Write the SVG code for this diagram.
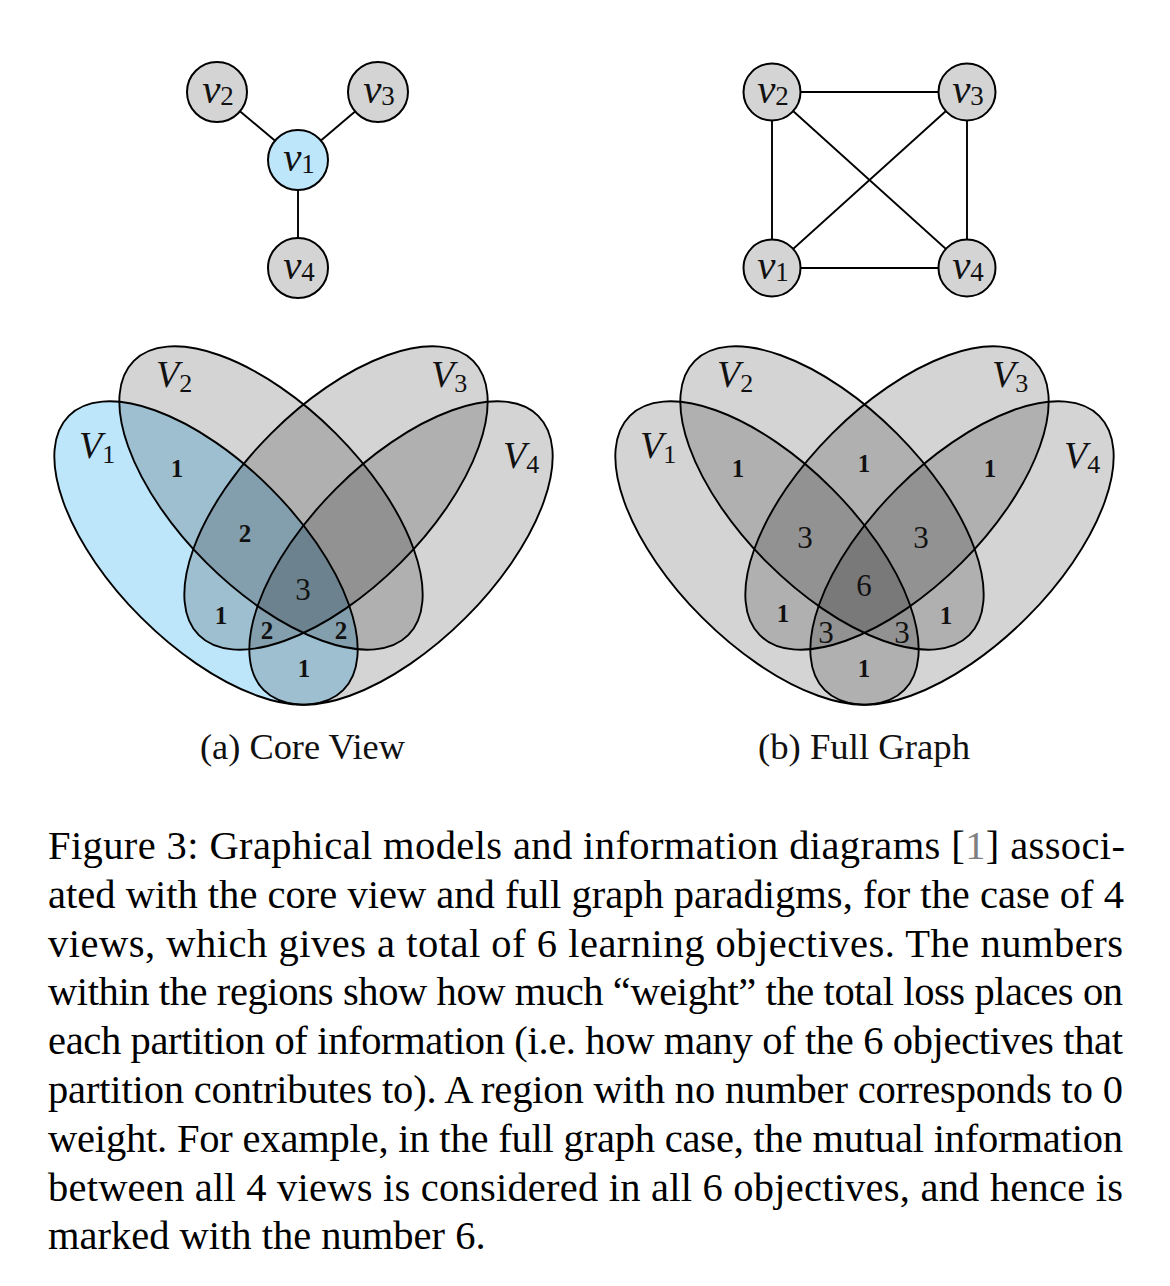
<svg xmlns="http://www.w3.org/2000/svg" width="1170" height="1286" viewBox="0 0 1170 1286">
<style>
.node{stroke:#000;stroke-width:2;fill:#d4d4d4}
.blue{fill:#bee6fb}
.edge{stroke:#000;stroke-width:1.9;fill:none}
.lab{font-family:"Liberation Serif",serif;font-size:41px;fill:#111;text-anchor:middle}
.it{font-style:italic}
.sub{font-size:27px;font-style:normal}
.shade{fill:#000;fill-opacity:0.17;stroke:none}
.bluefill{fill:#bee6fb;stroke:none}
.outline{fill:none;stroke:#000;stroke-width:1.9}
.vl{font-family:"Liberation Serif",serif;font-size:38px;fill:#111}
.vs{font-size:26px;font-style:normal}
.num{font-family:"Liberation Serif",serif;text-anchor:middle;fill:#111}
.n1{font-size:25px;font-weight:bold}
.n3{font-size:31px}
.cap{font-family:"Liberation Serif",serif;font-size:35px;fill:#111}
.fig{font-family:"Liberation Serif",serif;font-size:40.5px;fill:#000}
</style>
<defs>
<ellipse id="e1" cx="206" cy="553" rx="194" ry="91.5" transform="rotate(45 206 553)"/>
<ellipse id="e2" cx="271" cy="498" rx="194" ry="91.5" transform="rotate(45 271 498)"/>
<ellipse id="e3" cx="336" cy="498" rx="194" ry="91.5" transform="rotate(-45 336 498)"/>
<ellipse id="e4" cx="401" cy="553" rx="194" ry="91.5" transform="rotate(-45 401 553)"/>
</defs>

<!-- (a) Core view graph -->
<g id="connectors-a">
<line class="edge" x1="217" y1="92" x2="298" y2="160"/>
<line class="edge" x1="378" y1="92" x2="298" y2="160"/>
<line class="edge" x1="298" y1="160" x2="298" y2="268"/>
</g>
<g id="a-v2"><circle class="node" cx="217" cy="92" r="30"/><text class="lab" x="218" y="103"><tspan class="it">v</tspan><tspan class="sub" dy="2">2</tspan></text></g>
<g id="a-v3"><circle class="node" cx="378" cy="92" r="30"/><text class="lab" x="379" y="103"><tspan class="it">v</tspan><tspan class="sub" dy="2">3</tspan></text></g>
<g id="a-v1"><circle class="node blue" cx="298" cy="160" r="30"/><text class="lab" x="299" y="171"><tspan class="it">v</tspan><tspan class="sub" dy="2">1</tspan></text></g>
<g id="a-v4"><circle class="node" cx="298" cy="268" r="30"/><text class="lab" x="299" y="279"><tspan class="it">v</tspan><tspan class="sub" dy="2">4</tspan></text></g>

<!-- (b) Full graph -->
<g id="connectors-b">
<line class="edge" x1="772" y1="92" x2="967" y2="92"/>
<line class="edge" x1="772" y1="268" x2="967" y2="268"/>
<line class="edge" x1="772" y1="92" x2="772" y2="268"/>
<line class="edge" x1="967" y1="92" x2="967" y2="268"/>
<line class="edge" x1="772" y1="92" x2="967" y2="268"/>
<line class="edge" x1="772" y1="268" x2="967" y2="92"/>
</g>
<g id="b-v2"><circle class="node" cx="772" cy="92" r="28.5"/><text class="lab" x="773" y="103"><tspan class="it">v</tspan><tspan class="sub" dy="2">2</tspan></text></g>
<g id="b-v3"><circle class="node" cx="967" cy="92" r="28.5"/><text class="lab" x="968" y="103"><tspan class="it">v</tspan><tspan class="sub" dy="2">3</tspan></text></g>
<g id="b-v1"><circle class="node" cx="772" cy="268" r="28.5"/><text class="lab" x="773" y="279"><tspan class="it">v</tspan><tspan class="sub" dy="2">1</tspan></text></g>
<g id="b-v4"><circle class="node" cx="967" cy="268" r="28.5"/><text class="lab" x="968" y="279"><tspan class="it">v</tspan><tspan class="sub" dy="2">4</tspan></text></g>

<!-- (a) Venn -->
<g id="venn-a">
<use href="#e1" class="bluefill"/>
<use href="#e2" class="shade"/>
<use href="#e3" class="shade"/>
<use href="#e4" class="shade"/>
<use href="#e1" class="outline"/>
<use href="#e2" class="outline"/>
<use href="#e3" class="outline"/>
<use href="#e4" class="outline"/>
<text class="vl" x="79" y="458"><tspan class="it">V</tspan><tspan class="vs" dy="5">1</tspan></text>
<text class="vl" x="156" y="387"><tspan class="it">V</tspan><tspan class="vs" dy="5">2</tspan></text>
<text class="vl" x="431" y="387"><tspan class="it">V</tspan><tspan class="vs" dy="5">3</tspan></text>
<text class="vl" x="503" y="468"><tspan class="it">V</tspan><tspan class="vs" dy="5">4</tspan></text>
<text class="num n1" x="177" y="477">1</text>
<text class="num n1" x="245" y="542">2</text>
<text class="num n3" x="303" y="600">3</text>
<text class="num n1" x="221" y="624">1</text>
<text class="num n1" x="267" y="639">2</text>
<text class="num n1" x="341" y="639">2</text>
<text class="num n1" x="304" y="677">1</text>
</g>

<!-- (b) Venn -->
<g id="venn-b">
<g transform="translate(561,0)">
<use href="#e1" class="shade"/>
<use href="#e2" class="shade"/>
<use href="#e3" class="shade"/>
<use href="#e4" class="shade"/>
<use href="#e1" class="outline"/>
<use href="#e2" class="outline"/>
<use href="#e3" class="outline"/>
<use href="#e4" class="outline"/>
</g>
<text class="vl" x="640" y="458"><tspan class="it">V</tspan><tspan class="vs" dy="5">1</tspan></text>
<text class="vl" x="717" y="387"><tspan class="it">V</tspan><tspan class="vs" dy="5">2</tspan></text>
<text class="vl" x="992" y="387"><tspan class="it">V</tspan><tspan class="vs" dy="5">3</tspan></text>
<text class="vl" x="1064" y="468"><tspan class="it">V</tspan><tspan class="vs" dy="5">4</tspan></text>
<text class="num n1" x="738" y="477">1</text>
<text class="num n1" x="864" y="472">1</text>
<text class="num n1" x="990" y="477">1</text>
<text class="num n3" x="805" y="548">3</text>
<text class="num n3" x="921" y="548">3</text>
<text class="num n3" x="864" y="596">6</text>
<text class="num n1" x="783" y="622">1</text>
<text class="num n3" x="826" y="643">3</text>
<text class="num n3" x="902" y="643">3</text>
<text class="num n1" x="946" y="624">1</text>
<text class="num n1" x="864" y="677">1</text>
</g>

<text class="cap" x="200" y="759" textLength="205" lengthAdjust="spacingAndGlyphs">(a) Core View</text>
<text class="cap" x="758" y="759" textLength="212" lengthAdjust="spacingAndGlyphs">(b) Full Graph</text>

<g id="caption">
<text class="fig" x="48" y="859" textLength="1077" lengthAdjust="spacing">Figure 3: Graphical models and information diagrams [<tspan fill="#808080">1</tspan>] associ-</text>
<text class="fig" x="48" y="907.8" textLength="1076" lengthAdjust="spacing">ated with the core view and full graph paradigms, for the case of 4</text>
<text class="fig" x="48" y="956.6" textLength="1075" lengthAdjust="spacing">views, which gives a total of 6 learning objectives. The numbers</text>
<text class="fig" x="48" y="1005.4" textLength="1075" lengthAdjust="spacing">within the regions show how much “weight” the total loss places on</text>
<text class="fig" x="48" y="1054.2" textLength="1075" lengthAdjust="spacing">each partition of information (i.e. how many of the 6 objectives that</text>
<text class="fig" x="48" y="1103" textLength="1075" lengthAdjust="spacing">partition contributes to). A region with no number corresponds to 0</text>
<text class="fig" x="48" y="1151.8" textLength="1075" lengthAdjust="spacing">weight. For example, in the full graph case, the mutual information</text>
<text class="fig" x="48" y="1200.6" textLength="1075" lengthAdjust="spacing">between all 4 views is considered in all 6 objectives, and hence is</text>
<text class="fig" x="48" y="1249.4">marked with the number 6.</text>
</g>
</svg>
